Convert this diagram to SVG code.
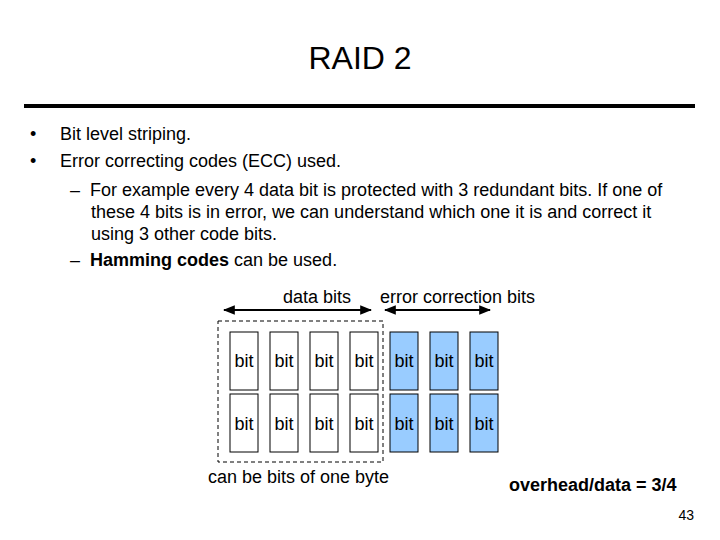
<svg xmlns="http://www.w3.org/2000/svg" width="720" height="540" viewBox="0 0 720 540">
<style>
text{font-family:"Liberation Sans",Arial,sans-serif;fill:#000}
.b{font-size:18px;text-anchor:middle}
.t{font-size:18px}
.c{fill:#fff;stroke:#000;stroke-width:1}
.e{fill:#99ccff;stroke:#000;stroke-width:1}
</style>
<defs><marker id="a" viewBox="0 0 10 10" refX="9" refY="5" markerWidth="6" markerHeight="6" orient="auto-start-reverse"><path d="M0,1 L10,5 L0,9 z" fill="#000"/></marker></defs>
<rect width="720" height="540" fill="#fff"/>
<text x="360" y="69" font-size="32" text-anchor="middle">RAID 2</text>
<rect x="24" y="104" width="671" height="4" fill="#000"/>
<text class="t" x="30" y="140">•</text><text class="t" x="60" y="140">Bit level striping.</text>
<text class="t" x="30" y="167">•</text><text class="t" x="60" y="167">Error correcting codes (ECC) used.</text>
<text class="t" x="70" y="196">–</text><text class="t" x="90" y="196">For example every 4 data bit is protected with 3 redundant bits. If one of</text>
<text class="t" x="91" y="218">these 4 bits is in error, we can understand which one it is and correct it</text>
<text class="t" x="91" y="240">using 3 other code bits.</text>
<text class="t" x="70" y="266">–</text><text class="t" x="90" y="266"><tspan font-weight="bold">Hamming codes</tspan> can be used.</text>
<text class="t" x="283" y="303">data bits</text>
<text class="t" x="380" y="303">error correction bits</text>
<g id="connectors" stroke="#000" stroke-width="2">
<line x1="224" y1="310" x2="371" y2="310" marker-start="url(#a)" marker-end="url(#a)"/>
<line x1="385" y1="310" x2="490" y2="310" marker-start="url(#a)" marker-end="url(#a)"/>
</g>
<rect id="byte" x="218" y="321" width="165" height="141" fill="none" stroke="#000" stroke-dasharray="4,3"/>
<g id="r1">
<rect class="c" x="230" y="332" width="28" height="58"/><text class="b" x="244" y="367">bit</text>
<rect class="c" x="270" y="332" width="28" height="58"/><text class="b" x="284" y="367">bit</text>
<rect class="c" x="310" y="332" width="28" height="58"/><text class="b" x="324" y="367">bit</text>
<rect class="c" x="350" y="332" width="28" height="58"/><text class="b" x="364" y="367">bit</text>
<rect class="e" x="390" y="332" width="28" height="58"/><text class="b" x="404" y="367">bit</text>
<rect class="e" x="430" y="332" width="28" height="58"/><text class="b" x="444" y="367">bit</text>
<rect class="e" x="470" y="332" width="28" height="58"/><text class="b" x="484" y="367">bit</text>
</g>
<g id="r2">
<rect class="c" x="230" y="394" width="28" height="58"/><text class="b" x="244" y="430">bit</text>
<rect class="c" x="270" y="394" width="28" height="58"/><text class="b" x="284" y="430">bit</text>
<rect class="c" x="310" y="394" width="28" height="58"/><text class="b" x="324" y="430">bit</text>
<rect class="c" x="350" y="394" width="28" height="58"/><text class="b" x="364" y="430">bit</text>
<rect class="e" x="390" y="394" width="28" height="58"/><text class="b" x="404" y="430">bit</text>
<rect class="e" x="430" y="394" width="28" height="58"/><text class="b" x="444" y="430">bit</text>
<rect class="e" x="470" y="394" width="28" height="58"/><text class="b" x="484" y="430">bit</text>
</g>
<text class="t" x="208" y="483">can be bits of one byte</text>
<text class="t" x="509" y="491" font-weight="bold">overhead/data = 3/4</text>
<text x="694" y="520" font-size="14" text-anchor="end">43</text>
</svg>
